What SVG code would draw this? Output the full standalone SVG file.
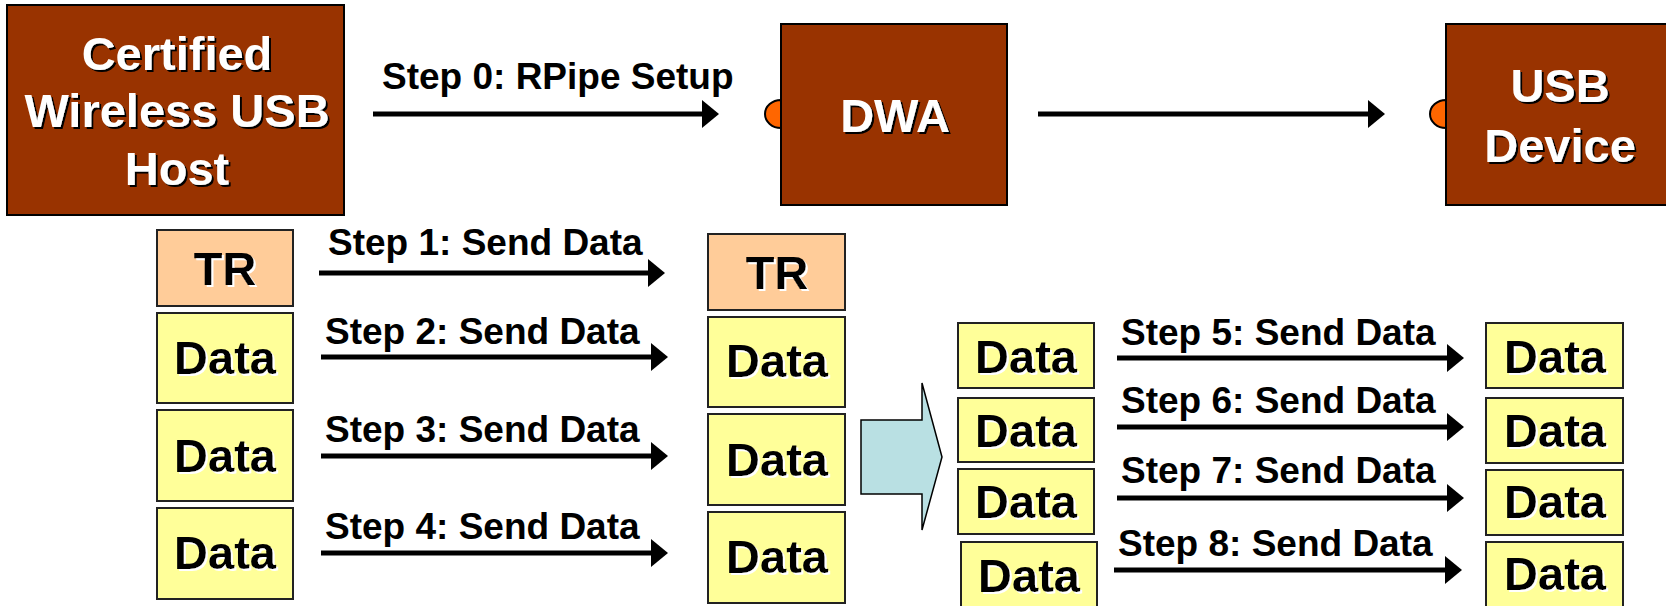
<svg xmlns="http://www.w3.org/2000/svg" width="1666" height="606" viewBox="0 0 1666 606">
<style>
.brown{fill:#993300;stroke:#000;stroke-width:2}
.tr{fill:#FFCC99;stroke:#222;stroke-width:2}
.data{fill:#FFFF99;stroke:#222;stroke-width:2}
.wt{font-family:"Liberation Sans",Arial,sans-serif;font-weight:bold;font-size:47px;fill:#fff;text-anchor:middle;filter:url(#sd)}
.bt{font-family:"Liberation Sans",Arial,sans-serif;font-weight:bold;font-size:47px;fill:#000;text-anchor:middle;filter:url(#sl)}
.lbl{font-family:"Liberation Sans",Arial,sans-serif;font-weight:bold;font-size:37px;fill:#000}
.conn{stroke:#000;stroke-width:5;fill:none;marker-end:url(#ah)}
.port{fill:#FF6600;stroke:#000;stroke-width:2}
</style>
<defs>
<filter id="sd" x="-10%" y="-10%" width="130%" height="130%"><feDropShadow dx="2" dy="2" stdDeviation="0" flood-color="#000"/></filter>
<filter id="sl" x="-10%" y="-10%" width="130%" height="130%"><feDropShadow dx="2" dy="2" stdDeviation="0" flood-color="#fff"/></filter>
<marker id="ah" markerUnits="userSpaceOnUse" markerWidth="17" markerHeight="28" refX="0" refY="14" orient="auto"><path d="M0,0 L17,14 L0,28 Z" fill="#000"/></marker>
</defs>
<rect width="1666" height="606" fill="#fff"/>

<g id="host">
<rect class="brown" x="7" y="5" width="337" height="210"/>
<text class="wt" x="177" y="70">Certified</text>
<text class="wt" x="177" y="127">Wireless USB</text>
<text class="wt" x="177" y="185">Host</text>
</g>
<g id="dwa">
<path class="port" d="M781,100 A16,14 0 0 0 781,128 Z"/>
<rect class="brown" x="781" y="24" width="226" height="181"/>
<text class="wt" x="895" y="132">DWA</text>
</g>
<g id="usb">
<path class="port" d="M1446,100 A16,14 0 0 0 1446,128 Z"/>
<rect class="brown" x="1446" y="24" width="230" height="181"/>
<text class="wt" x="1560" y="102">USB</text>
<text class="wt" x="1560" y="162">Device</text>
</g>

<g id="left-tr"><rect class="tr" x="157" y="230" width="136" height="76"/><text class="bt" x="225" y="285">TR</text></g>
<g id="left-data1"><rect class="data" x="157" y="313" width="136" height="90"/><text class="bt" x="225" y="374">Data</text></g>
<g id="left-data2"><rect class="data" x="157" y="410" width="136" height="91"/><text class="bt" x="225" y="472">Data</text></g>
<g id="left-data3"><rect class="data" x="157" y="508" width="136" height="91"/><text class="bt" x="225" y="569">Data</text></g>

<g id="mid-tr"><rect class="tr" x="708" y="234" width="137" height="76"/><text class="bt" x="777" y="289">TR</text></g>
<g id="mid-data1"><rect class="data" x="708" y="317" width="137" height="90"/><text class="bt" x="777" y="377">Data</text></g>
<g id="mid-data2"><rect class="data" x="708" y="414" width="137" height="91"/><text class="bt" x="777" y="476">Data</text></g>
<g id="mid-data3"><rect class="data" x="708" y="512" width="137" height="91"/><text class="bt" x="777" y="573">Data</text></g>

<g id="split-arrow"><path d="M861,420 L922,420 L922,383 L942,457 L922,530 L922,494 L861,494 Z" fill="#B9E0E3" stroke="#000" stroke-width="1.5"/></g>

<g id="frag-a"><rect class="data" x="958" y="323" width="136" height="65"/><text class="bt" x="1026" y="373">Data</text></g>
<g id="frag-b"><rect class="data" x="958" y="398" width="136" height="64"/><text class="bt" x="1026" y="447">Data</text></g>
<g id="frag-c"><rect class="data" x="958" y="469" width="136" height="65"/><text class="bt" x="1026" y="518">Data</text></g>
<g id="frag-d"><rect class="data" x="961" y="542" width="136" height="66"/><text class="bt" x="1029" y="592">Data</text></g>

<g id="dev-data5"><rect class="data" x="1486" y="323" width="137" height="65"/><text class="bt" x="1555" y="373">Data</text></g>
<g id="dev-data6"><rect class="data" x="1486" y="398" width="137" height="65"/><text class="bt" x="1555" y="447">Data</text></g>
<g id="dev-data7"><rect class="data" x="1486" y="470" width="137" height="65"/><text class="bt" x="1555" y="518">Data</text></g>
<g id="dev-data8"><rect class="data" x="1486" y="542" width="137" height="66"/><text class="bt" x="1555" y="590">Data</text></g>

<g id="connectors">
<path class="conn" d="M373,114 H702"/>
<path class="conn" d="M1038,114 H1368"/>
<path class="conn" d="M319,273 H648"/>
<path class="conn" d="M321,357 H651"/>
<path class="conn" d="M321,456 H651"/>
<path class="conn" d="M321,553 H651"/>
<path class="conn" d="M1117,358 H1447"/>
<path class="conn" d="M1117,427 H1447"/>
<path class="conn" d="M1117,498 H1447"/>
<path class="conn" d="M1114,570 H1445"/>
<text class="lbl" x="382" y="89">Step 0: RPipe Setup</text>
<text class="lbl" x="328" y="255">Step 1: Send Data</text>
<text class="lbl" x="325" y="344">Step 2: Send Data</text>
<text class="lbl" x="325" y="442">Step 3: Send Data</text>
<text class="lbl" x="325" y="539">Step 4: Send Data</text>
<text class="lbl" x="1121" y="345">Step 5: Send Data</text>
<text class="lbl" x="1121" y="413">Step 6: Send Data</text>
<text class="lbl" x="1121" y="483">Step 7: Send Data</text>
<text class="lbl" x="1118" y="556">Step 8: Send Data</text>
</g>
</svg>
